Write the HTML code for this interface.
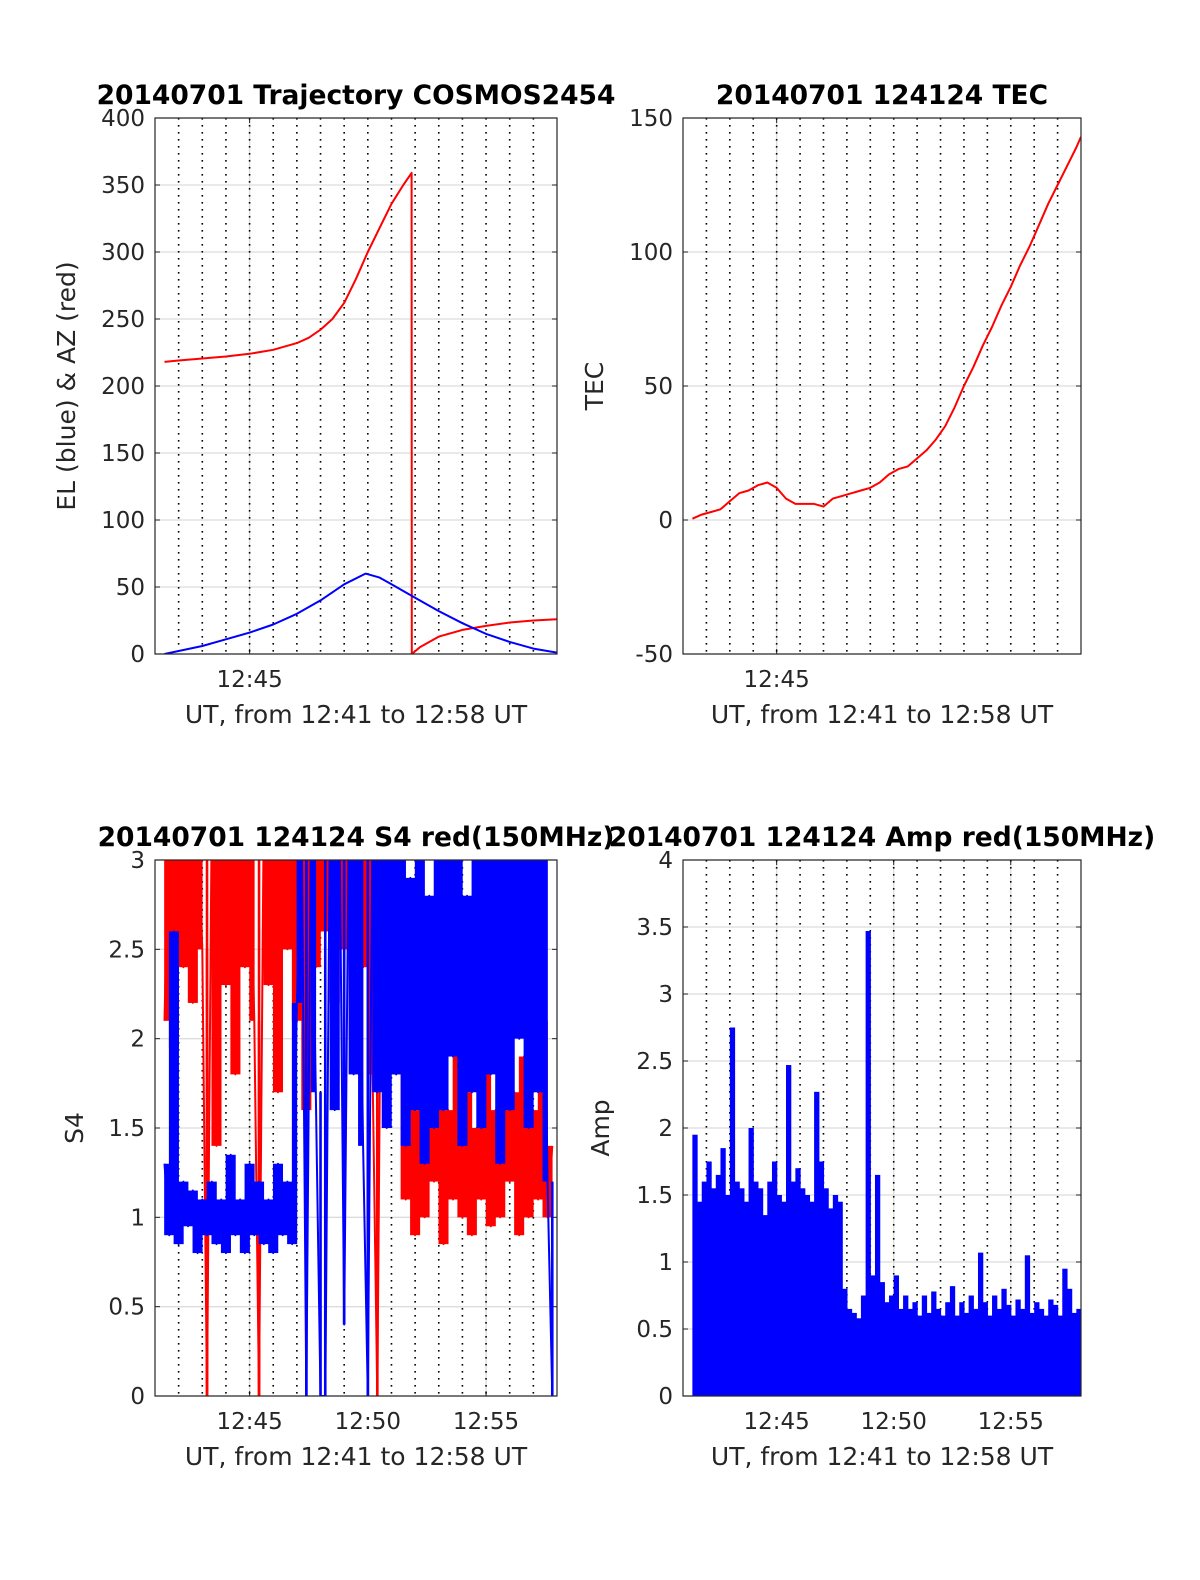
<!DOCTYPE html>
<html><head><meta charset="utf-8"><style>
html,body{margin:0;padding:0;background:#fff;}
svg text{font-family:"DejaVu Sans","Liberation Sans",sans-serif;}
</style></head><body>
<svg id="fig" width="1200" height="1575" viewBox="0 0 1200 1575" xmlns="http://www.w3.org/2000/svg"></svg>
<script>
// ---- data (t = minutes after 12:41) ----
const azT = [0.4,1,2,3,4,5,6,6.5,7,7.5,8,8.5,9,9.5,10,10.5,10.85,10.86,11.2,12,13,14,15,16,17];
const azV = [218,219,220.5,222,224,227,232,236,242,250,262,280,300,318,336,350,359,0,5,13,18,21,23.5,25,26];
const elT = [0.4,2,3,4,5,6,7,8,8.9,9.5,10,11,12,13,14,15,16,17];
const elV = [0,6,11,16,22,30,40,52,60,57,52,42,32,23,15,9,4,1];
const tecT = [0.4,0.8,1.2,1.6,2.0,2.4,2.8,3.2,3.6,4.0,4.4,4.8,5.2,5.6,6.0,6.4,6.8,7.2,7.6,8.0,8.4,8.8,9.2,9.6,10.0,10.4,10.8,11.2,11.6,12.0,12.4,12.8,13.2,13.6,14.0,14.4,14.8,15.2,15.6,16.0,16.4,16.8,17.0];
const tecV = [0.5,2,3,4,7,10,11,13,14,12,8,6,6,6,5,8,9,10,11,12,14,17,19,20,23,26,30,35,42,50,57,65,72,80,87,95,102,110,118,125,132,139,143];
const s4Start = 0.4, s4Step = 0.2;
const s4Red = [2.1,3.3,1.95,3.3,2.4,3.3,2.2,3.3,2.5,0,3.3,1.4,3.3,2.3,3.3,1.8,3.3,2.4,3.3,2.1,0,3.3,2.3,3.3,1.7,3.3,2.5,3.3,2.1,3.3,1.6,3.3,2.4,3.3,2.6,3.3,2.2,3.3,2.5,3.3,2.0,3.3,2.4,3.3,1.8,0,3.3,2.3,3.3,1.8,2.6,1.1,1.9,0.9,1.6,1.0,1.8,1.2,2.0,0.85,1.6,1.1,1.9,1.0,1.7,0.9,1.5,1.1,2.1,0.95,1.6,1.0,1.8,1.2,1.7,0.9,1.9,1.0,1.6,1.1,2.1,1.0,1.4];
const s4Blue = [1.3,0.9,2.6,0.85,1.2,0.95,1.15,0.8,1.1,0.9,1.2,0.85,1.1,0.8,1.35,0.9,1.1,0.8,1.3,0.9,1.2,0.85,1.1,0.8,1.3,0.9,1.2,0.85,2.2,3.3,0,3.3,1.7,0,0,3.3,1.6,3.3,0.4,3.3,1.8,3.3,1.4,0,3.3,1.7,3.3,1.5,3.3,1.8,3.3,1.4,2.9,1.6,3.3,1.3,2.8,1.5,3.3,1.6,3.3,1.9,3.3,1.4,2.8,1.7,3.3,1.5,3.3,1.8,3.3,1.3,3.3,1.6,3.3,2.0,3.3,1.5,3.3,1.7,3.3,1.2,0];
const ampStart = 0.4, ampStep = 0.2;
const ampV = [1.95,1.45,1.6,1.75,1.55,1.65,1.85,1.5,2.75,1.6,1.55,1.45,2.0,1.6,1.55,1.35,1.6,1.75,1.5,1.45,2.47,1.6,1.7,1.55,1.5,1.45,2.27,1.75,1.55,1.4,1.5,1.45,0.8,0.65,0.62,0.58,0.75,3.47,0.9,1.65,0.85,0.7,0.75,0.9,0.65,0.75,0.65,0.7,0.6,0.75,0.62,0.78,0.65,0.6,0.7,0.82,0.6,0.7,0.62,0.75,0.65,1.07,0.7,0.6,0.75,0.65,0.8,0.68,0.6,0.72,0.65,1.05,0.62,0.7,0.65,0.6,0.72,0.68,0.6,0.95,0.8,0.62,0.65];
const xTickLabelsTop = ["12:45"];
const xTickLabelsBottom = ["12:45","12:50","12:55"];

const NS = "http://www.w3.org/2000/svg";
const fig = document.getElementById('fig');
function mk(tag, attrs, parent){const e=document.createElementNS(NS,tag);for(const k in attrs)e.setAttribute(k,attrs[k]);(parent||fig).appendChild(e);return e;}

function panel(name, L, R, T, B, ymin, ymax, ystep, majors, labels, title, ylabelOffset, ylabel){
  const g = mk('g',{});
  
  
  const sx = t => L + (t/17)*(R-L);
  const sy = v => B - (v-ymin)/(ymax-ymin)*(B-T);
  const cid = name+'-clip';
  const cp = mk('clipPath',{id:cid},g); mk('rect',{x:L,y:T,width:R-L,height:B-T},cp);
  for(let v=ymin; v<=ymax+1e-9; v+=ystep){
    const y=sy(v);
    const gl = mk('line',{x1:L,x2:R,y1:y,y2:y,stroke:'#dcdcdc','stroke-width':1.3},g);
    
    
    const tl = mk('text',{x:L-10,y:y+8,'text-anchor':'end','font-size':23,fill:'#262626'},g);
    tl.textContent = (Math.round(v*10)/10).toString();
    
    
    mk('line',{x1:L,x2:L+5,y1:y,y2:y,stroke:'#262626','stroke-width':1},g);
    mk('line',{x1:R,x2:R-5,y1:y,y2:y,stroke:'#262626','stroke-width':1},g);
  }
  for(let m=1;m<17;m++){
    const x=sx(m);
    if(majors.includes(m)){
      mk('line',{x1:x,x2:x,y1:T,y2:B,stroke:'#dcdcdc','stroke-width':1.3},g);
      mk('line',{x1:x,x2:x,y1:B,y2:B-5,stroke:'#262626'},g);
      mk('line',{x1:x,x2:x,y1:T,y2:T+5,stroke:'#262626'},g);
    }
    const dl = mk('line',{x1:x,x2:x,y1:T,y2:B,stroke:'#000','stroke-width':1.6,'stroke-dasharray':'1.6 5.4'},g);
    
    
  }
  majors.forEach((m,i)=>{
    const tl = mk('text',{x:sx(m),y:B+33,'text-anchor':'middle','font-size':23,fill:'#262626'},g);
    tl.textContent = labels[i];
    
    
  });
  const xl = mk('text',{x:(L+R)/2,y:B+69,'text-anchor':'middle','font-size':25,fill:'#262626'},g);
  xl.textContent='UT, from 12:41 to 12:58 UT';
  
  
  const yl = mk('text',{x:0,y:0,'text-anchor':'middle','font-size':25,fill:'#262626',transform:`translate(${L-ylabelOffset},${(T+B)/2}) rotate(-90)`},g);
  yl.textContent=ylabel;
  
  
  const tt = mk('text',{x:(L+R)/2,y:T-14,'text-anchor':'middle','font-size':26.5,'font-weight':'bold',fill:'#000'},g);
  tt.textContent=title;
  
  
  const plot = mk('g',{'clip-path':`url(#${cid})`},g);
  return {g, plot, sx, sy, L,R,T,B};
}
function box(p){
  const b = mk('rect',{x:p.L,y:p.T,width:p.R-p.L,height:p.B-p.T,fill:'none',stroke:'#262626','stroke-width':1.2},p.g);
  
  
}
function line(p, ts, vs, color, w, name){
  const pts = ts.map((t,i)=>p.sx(t).toFixed(1)+','+p.sy(vs[i]).toFixed(1)).join(' ');
  const pl = mk('polyline',{points:pts,fill:'none',stroke:color,'stroke-width':w,'stroke-linejoin':'round'},p.plot);
  
  
}
// dense noisy series: fill the span between consecutive samples; deep dropouts drawn thin
function noisy(p, start, step, vs, color, name){
  const g = mk('g',{},p.plot);
  
  
  for(let i=0;i<vs.length-1;i++){
    const a=vs[i], b=vs[i+1];
    const x0=p.sx(start+i*step), x1=p.sx(start+(i+1)*step);
    const y0=p.sy(Math.max(a,b)), y1=p.sy(Math.min(a,b));
    let r;
    if(Math.min(a,b) < 0.6){
      const xc = a < b ? x0 : x1;
      r = mk('rect',{x:xc-1.3,y:y0,width:2.6,height:Math.max(1,y1-y0),fill:color},g);
    } else {
      r = mk('rect',{x:x0-0.3,y:y0,width:x1-x0+0.6,height:Math.max(1,y1-y0),fill:color},g);
    }
    
    
  }
  line(p, vs.map((v,i)=>start+i*step), vs, color, 2, name+'-line');
}

// Panel 1
const p1 = panel('trajectory-panel',155,557,118,654,0,400,50,[4],xTickLabelsTop,'20140701 Trajectory COSMOS2454',80,'EL (blue) & AZ (red)');
line(p1, azT, azV, '#ff0000', 2, 'azimuth-line');
line(p1, elT, elV, '#0000ff', 2, 'elevation-line');
box(p1);

// Panel 2
const p2 = panel('tec-panel',683,1081,118,654,-50,150,50,[4],xTickLabelsTop,'20140701 124124 TEC',80,'TEC');
line(p2, tecT, tecV, '#ff0000', 2, 'tec-line');
box(p2);

// Panel 3
const p3 = panel('s4-panel',155,557,860,1396,0,3,0.5,[4,9,14],xTickLabelsBottom,'20140701 124124 S4 red(150MHz)',72,'S4');
noisy(p3, s4Start, s4Step, s4Red, '#ff0000', 's4-red-series');
noisy(p3, s4Start, s4Step, s4Blue, '#0000ff', 's4-blue-series');
box(p3);

// Panel 4
const p4 = panel('amp-panel',683,1081,860,1396,0,4,0.5,[4,9,14],xTickLabelsBottom,'20140701 124124 Amp red(150MHz)',74,'Amp');
ampV.forEach((v,i)=>{
  const t = ampStart + i*ampStep;
  const x0 = p4.sx(t), x1 = p4.sx(t+ampStep);
  const y = p4.sy(v);
  const r = mk('rect',{x:x0,y:y,width:(x1-x0)+0.6,height:p4.sy(0)-y,fill:'#0000ff'},p4.plot);
  
  
});
box(p4);
</script>
</body></html>
